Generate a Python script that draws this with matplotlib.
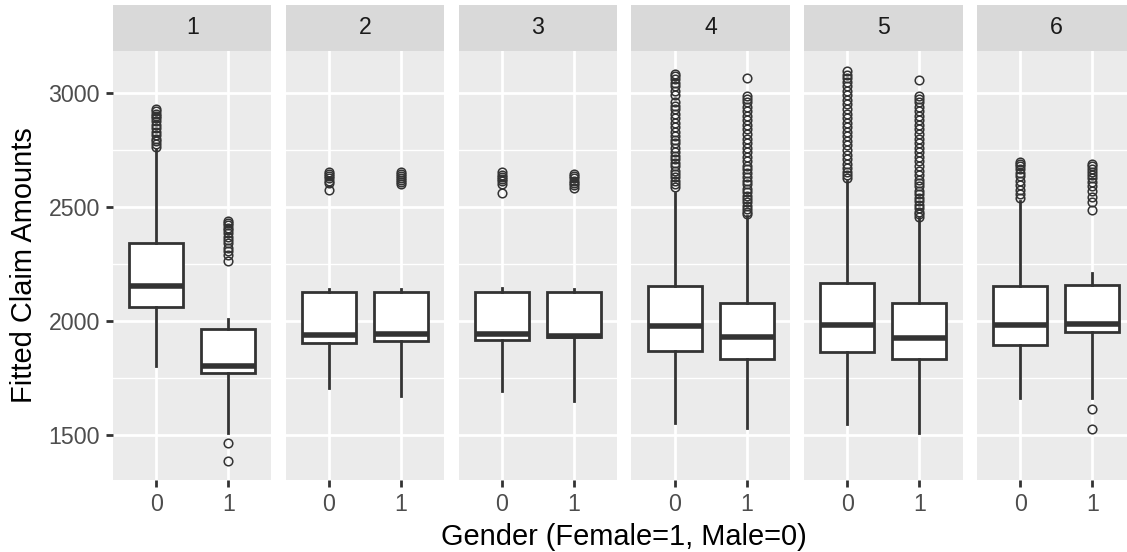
import matplotlib
matplotlib.use("Agg")
import matplotlib.pyplot as plt
from matplotlib.ticker import FixedLocator

plt.rcParams["font.family"] = ["Liberation Sans", "DejaVu Sans"]

# Facets (claim group) and x categories
panels = ["1", "2", "3", "4", "5", "6"]
genders = ["0", "1"]

# Box statistics per panel: [gender 0, gender 1]
whisker_low = [[1803, 1509], [1707, 1671], [1693, 1650], [1554, 1529], [1547, 1510], [1662, 1662]]
quartile_1 = [[2061, 1773], [1902, 1914], [1917, 1928], [1870, 1833], [1865, 1835], [1895, 1951]]
medians = [[2153, 1804], [1939, 1942], [1943, 1936], [1978, 1929], [1984, 1924], [1982, 1985]]
quartile_3 = [[2342, 1965], [2128, 2128], [2128, 2128], [2153, 2080], [2165, 2080], [2154, 2158]]
whisker_high = [[2755, 2009], [2139, 2140], [2143, 2140], [2561, 2462], [2615, 2452], [2525, 2211]]

# Outlying fitted amounts per panel: [gender 0, gender 1]
outliers = [
    [[2765, 2775, 2790, 2800, 2815, 2830, 2845, 2860, 2875, 2890, 2900, 2910, 2920, 2930],
     [1386, 1466, 2262, 2290, 2305, 2320, 2340, 2355, 2370, 2385, 2400, 2410, 2420, 2430, 2440]],
    [[2575, 2605, 2615, 2625, 2635, 2645, 2655],
     [2600, 2610, 2620, 2628, 2636, 2644, 2652]],
    [[2563, 2600, 2612, 2622, 2632, 2642, 2652],
     [2585, 2595, 2605, 2615, 2625, 2635, 2645]],
    [[2589, 2600, 2615, 2630, 2645, 2660, 2680, 2695, 2710, 2725, 2740, 2760, 2780, 2795,
      2810, 2830, 2850, 2870, 2890, 2910, 2930, 2945, 2960, 2990, 3010, 3030, 3045, 3060, 3075, 3085],
     [2470, 2480, 2490, 2505, 2520, 2535, 2550, 2565, 2580, 2600, 2615, 2630, 2650, 2665, 2680,
      2700, 2720, 2740, 2760, 2780, 2800, 2820, 2840, 2860, 2880, 2900, 2920, 2940, 2960, 2975, 2985, 3064]],
    [[2625, 2640, 2655, 2670, 2690, 2710, 2730, 2750, 2770, 2790, 2810, 2830, 2850, 2870,
      2890, 2910, 2930, 2950, 2970, 2990, 3010, 3030, 3050, 3065, 3080, 3095],
     [2458, 2470, 2480, 2495, 2510, 2525, 2540, 2555, 2570, 2590, 2605, 2620, 2640, 2660, 2680,
      2700, 2720, 2740, 2760, 2780, 2800, 2820, 2840, 2860, 2880, 2900, 2920, 2940, 2960, 2975, 2985, 3057]],
    [[2538, 2555, 2575, 2595, 2615, 2635, 2650, 2665, 2680, 2690, 2697],
     [1528, 1615, 2485, 2520, 2545, 2570, 2590, 2610, 2625, 2640, 2655, 2668, 2680, 2690]],
]

y_major = [1500, 2000, 2500, 3000]
y_minor = [1750, 2250, 2750]
y_limits = (1302.6, 3186.4)

W, H = 1127, 552
fig = plt.figure(figsize=(W / 100, H / 100), dpi=100)

panel_left0 = 113.0
panel_step = 172.8
panel_w = 158.4
panel_top = 50.5
panel_bottom = 480.0
strip_top = 5.0

INK = "#333333"
box_lw = 2.0
xpos = list(range(len(genders)))

for i, name in enumerate(panels):
    left = panel_left0 + i * panel_step
    ax = fig.add_axes([left / W, 1 - panel_bottom / H, panel_w / W, (panel_bottom - panel_top) / H])
    ax.set_facecolor("#EBEBEB")
    for s in ax.spines.values():
        s.set_visible(False)

    stats = []
    for g in range(len(genders)):
        stats.append(dict(
            whislo=whisker_low[i][g], q1=quartile_1[i][g], med=medians[i][g],
            q3=quartile_3[i][g], whishi=whisker_high[i][g], fliers=outliers[i][g],
        ))
    ax.bxp(
        stats, positions=xpos, widths=0.75, patch_artist=True, showcaps=False,
        boxprops=dict(facecolor="white", edgecolor=INK, linewidth=box_lw),
        medianprops=dict(color=INK, linewidth=4.0, solid_capstyle="butt"),
        whiskerprops=dict(color=INK, linewidth=box_lw),
        flierprops=dict(marker="o", markersize=6.2, markerfacecolor="none",
                        markeredgecolor=INK, markeredgewidth=1.1),
        zorder=3,
    )

    ax.set_xlim(-0.6, 1.6)
    ax.set_ylim(*y_limits)
    ax.set_xticks(xpos)
    ax.set_xticklabels(genders)
    ax.yaxis.set_major_locator(FixedLocator(y_major))
    ax.yaxis.set_minor_locator(FixedLocator(y_minor))
    ax.grid(which="major", color="white", linewidth=2.0, zorder=0)
    ax.grid(which="minor", axis="y", color="white", linewidth=1.0, zorder=0)
    ax.set_axisbelow(True)
    ax.tick_params(axis="both", which="major", length=5.2, width=2.0, color=INK,
                   labelsize=16.7, labelcolor="#4D4D4D", pad=4.2)
    ax.tick_params(axis="y", which="minor", length=0)
    if i == 0:
        ax.set_yticklabels([str(v) for v in y_major])
    else:
        ax.tick_params(axis="y", which="major", left=False, labelleft=False)

    # facet strip
    sax = fig.add_axes([left / W, 1 - panel_top / H, panel_w / W, (panel_top - strip_top) / H])
    sax.set_facecolor("#D9D9D9")
    sax.set_xticks([])
    sax.set_yticks([])
    for s in sax.spines.values():
        s.set_visible(False)
    sax.text(0.5, 0.5, name, ha="center", va="center", fontsize=16.7,
             color="#1A1A1A", transform=sax.transAxes)

center_x = (panel_left0 + panel_left0 + 5 * panel_step + panel_w) / 2
fig.text(center_x / W, 1 - 537 / H, "Gender (Female=1, Male=0)", ha="center", va="center",
         fontsize=20.9, color="black")
fig.text(24 / W, 1 - (panel_top + panel_bottom) / 2 / H, "Fitted Claim Amounts",
         ha="center", va="center", rotation=90, fontsize=20.9, color="black")

fig.savefig("out.png", dpi=100, facecolor="white")
